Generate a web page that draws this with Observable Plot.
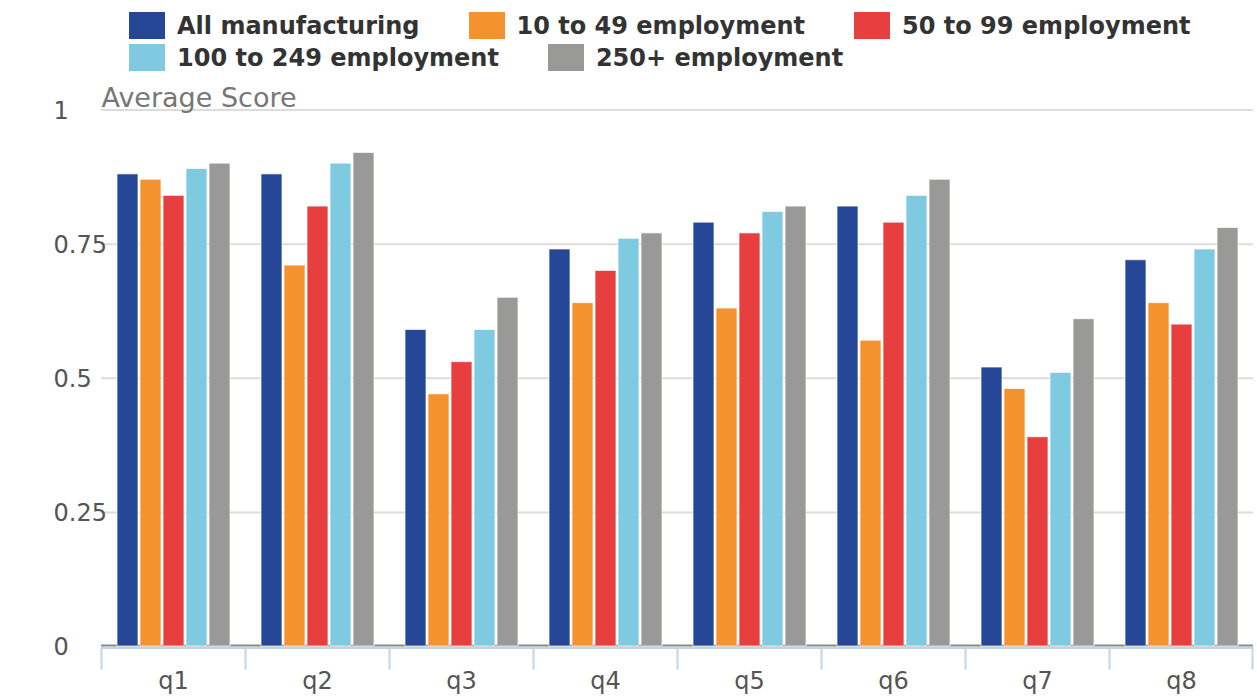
<!DOCTYPE html>
<html>
<head>
<meta charset="utf-8">
<script src="https://cdn.jsdelivr.net/npm/d3@7"></script>
<script src="https://cdn.jsdelivr.net/npm/@observablehq/plot@0.6"></script>
<style>
  body { margin: 0; background: #fff; font-family: "DejaVu Sans", sans-serif; }
  #legend { height: 80px; box-sizing: border-box; padding: 12px 0 0 129px; width: 1257px;
            display: flex; flex-wrap: wrap; column-gap: 49px; row-gap: 5px; align-content: flex-start; }
  .item { display: flex; align-items: center; height: 27px; }
  .sw { width: 36px; height: 27px; margin-right: 12px; box-sizing: border-box; }
  .lab { font-weight: bold; font-size: 24px; color: #333; white-space: nowrap; line-height: 27px; position: relative; top: 1px; }
</style>
</head>
<body>
<div id="legend"></div>
<div id="chart"></div>
<script>
const questions = ["q1", "q2", "q3", "q4", "q5", "q6", "q7", "q8"];
const series = ["All manufacturing", "10 to 49 employment", "50 to 99 employment", "100 to 249 employment", "250+ employment"];
const colors = ["#264796", "#F4922F", "#E73F40", "#7FC9E1", "#999998"];
const allManufacturing = [0.88, 0.88, 0.59, 0.74, 0.79, 0.82, 0.52, 0.72];
const emp10to49       = [0.87, 0.71, 0.47, 0.64, 0.63, 0.57, 0.48, 0.64];
const emp50to99       = [0.84, 0.82, 0.53, 0.70, 0.77, 0.79, 0.39, 0.60];
const emp100to249     = [0.89, 0.90, 0.59, 0.76, 0.81, 0.84, 0.51, 0.74];
const emp250plus      = [0.90, 0.92, 0.65, 0.77, 0.82, 0.87, 0.61, 0.78];
const yTicks = [0, 0.25, 0.5, 0.75, 1];
const yLabel = "Average Score";

const seriesValues = [allManufacturing, emp10to49, emp50to99, emp100to249, emp250plus];
const data = questions.flatMap((q, i) => series.map((s, j) => ({q, series: s, value: seriesValues[j][i]})));

// legend
const legend = document.getElementById("legend");
series.forEach((s, j) => {
  const item = document.createElement("div");
  item.className = "item";
  const sw = document.createElement("div");
  sw.className = "sw";
  sw.style.background = colors[j];
  const lab = document.createElement("span");
  lab.className = "lab";
  lab.textContent = s;
  item.appendChild(sw); item.appendChild(lab);
  legend.appendChild(item);
});

const axisBlue = "#c5d4e3";
const chart = Plot.plot({
  width: 1257,
  height: 617,
  marginTop: 29.5,
  marginBottom: 51,
  marginLeft: 99,
  marginRight: 3,
  style: {fontFamily: "DejaVu Sans", fontSize: "24px", color: "#555", background: "#fff", overflow: "visible"},
  fx: {domain: questions, padding: 0, label: null},
  x: {domain: series, paddingInner: 0.1, paddingOuter: 0.63, axis: null},
  y: {domain: [0, 1]},
  color: {domain: series, range: colors},
  marks: [
    Plot.ruleY(yTicks.filter(d => d > 0), {stroke: "#dcdcdc", strokeWidth: 2}),
    Plot.ruleY([0], {stroke: "#8a8a8a", strokeWidth: 2, dy: -1}),
    Plot.barY(data, {fx: "q", x: "series", y: "value", fill: "series", stroke: "white", strokeWidth: 1, strokeOpacity: 0.7}),
    Plot.ruleY([0], {stroke: axisBlue, strokeWidth: 2, dy: 1.5}),
    Plot.frame({anchor: "left", stroke: axisBlue, strokeWidth: 2, insetTop: 538, insetBottom: -22}),
    Plot.frame({anchor: "right", facet: "super", stroke: axisBlue, strokeWidth: 2, insetTop: 538, insetBottom: -22, insetRight: 1}),
    Plot.axisY({ticks: yTicks, tickSize: 0, tickPadding: 48, textAnchor: "start", dy: 1, fontSize: 24, label: null, tickFormat: d => String(d)}),
    Plot.axisFx({anchor: "bottom", tickSize: 0, tickPadding: 25, label: null, fontSize: 24}),
    Plot.text([yLabel], {frameAnchor: "top-left", facet: "super", dy: -11.5, lineAnchor: "middle", textAnchor: "start", fill: "#777", fontSize: 27})
  ]
});
document.getElementById("chart").appendChild(chart);
</script>
</body>
</html>
